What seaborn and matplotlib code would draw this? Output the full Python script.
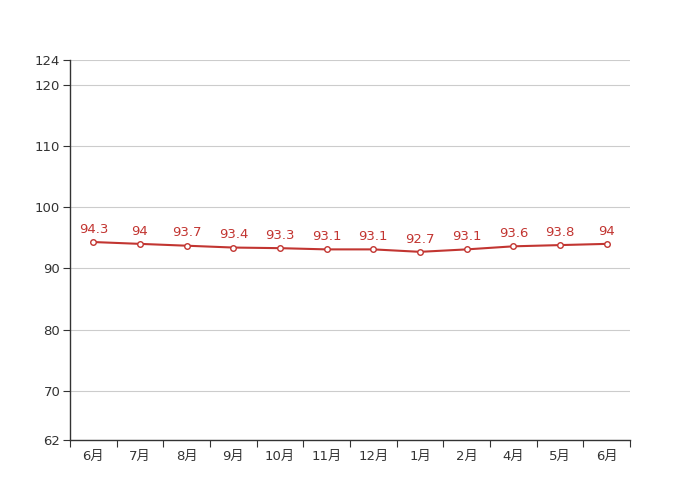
import matplotlib
matplotlib.use("Agg")
import matplotlib.pyplot as plt
import seaborn as sns
import pandas as pd
import numpy as np

months = ["6月", "7月", "8月", "9月", "10月", "11月", "12月", "1月", "2月", "4月", "5月", "6月"]
values = [94.3, 94, 93.7, 93.4, 93.3, 93.1, 93.1, 92.7, 93.1, 93.6, 93.8, 94]
value_labels = ["94.3", "94", "93.7", "93.4", "93.3", "93.1", "93.1", "92.7", "93.1", "93.6", "93.8", "94"]
y_ticks = [62, 70, 80, 90, 100, 110, 120, 124]

sns.set_theme(style="white")
plt.rcParams['font.family'] = ['DejaVu Sans', 'Noto Sans CJK SC']

df = pd.DataFrame({"pos": np.arange(len(months)), "value": values})

fig = plt.figure(figsize=(7, 5), dpi=100)
ax = fig.add_axes([0.1, 0.12, 0.8, 0.76])

color = "#c23531"
sns.lineplot(data=df, x="pos", y="value", ax=ax, color=color, linewidth=1.5,
             marker="o", markersize=4, markerfacecolor="white",
             markeredgecolor=color, markeredgewidth=1.0, zorder=3)

for x, v, t in zip(df["pos"], values, value_labels):
    ax.annotate(t, (x, v), xytext=(0, 4.5), textcoords="offset points",
                ha="center", va="bottom", color=color, fontsize=9.5)

ax.set_xlim(-0.5, len(months) - 0.5)
ax.set_ylim(62, 124)
ax.set_yticks(y_ticks)
ax.set_yticklabels([str(t) for t in y_ticks])
for t in y_ticks:
    ax.axhline(t, color="#cccccc", linewidth=0.8, zorder=0)

ax.set_xticks(np.arange(len(months)))
ax.set_xticklabels(months)
ax.set_xticks(np.arange(len(months) + 1) - 0.5, minor=True)
ax.tick_params(axis="x", which="both", bottom=True)
ax.tick_params(axis="y", which="both", left=True)
ax.tick_params(axis="x", which="major", length=0, pad=7, labelsize=9.5, labelcolor="#333333")
ax.tick_params(axis="x", which="minor", length=5, width=0.8, color="#333333", direction="out")
ax.tick_params(axis="y", which="major", length=5, width=0.8, color="#333333", direction="out",
               labelsize=9.5, labelcolor="#333333", pad=2)

for s in ["top", "right"]:
    ax.spines[s].set_visible(False)
for s in ["left", "bottom"]:
    ax.spines[s].set_color("#333333")
    ax.spines[s].set_linewidth(1.0)

ax.set_xlabel("")
ax.set_ylabel("")
ax.grid(False)

fig.savefig("out.png", dpi=100)
